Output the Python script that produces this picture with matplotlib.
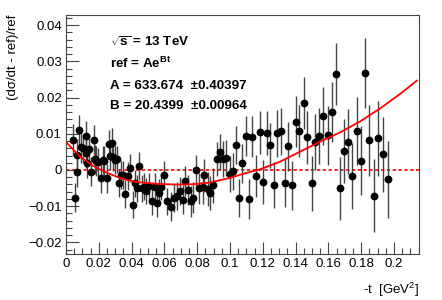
import matplotlib
matplotlib.use('Agg')
import matplotlib.pyplot as plt
from matplotlib.ticker import MultipleLocator

plt.rcParams['font.family'] = ['Liberation Sans', 'DejaVu Sans']
plt.rcParams['mathtext.fontset'] = 'custom'
plt.rcParams['mathtext.rm'] = 'Liberation Sans'
plt.rcParams['mathtext.bf'] = 'Liberation Sans:bold'

# data points: -t, ratio, error
t_pts = [0.00457, 0.00549, 0.00652, 0.00689, 0.00793, 0.00896, 0.01018, 0.01189, 0.01220, 0.01299,
         0.01421, 0.01494, 0.01695, 0.01768, 0.01829, 0.01970, 0.02122, 0.02238, 0.02317, 0.02470,
         0.02591, 0.02683, 0.02805, 0.02884, 0.02988, 0.03128, 0.03207, 0.03335, 0.03494, 0.03573,
         0.03799, 0.03902, 0.04055, 0.04207, 0.04348, 0.04421, 0.04616, 0.04756, 0.04878, 0.05079,
         0.05226, 0.05427, 0.05549, 0.05652, 0.05774, 0.05976, 0.06140, 0.06402, 0.06585, 0.06768,
         0.06921, 0.07104, 0.07256, 0.07439, 0.07604, 0.07762, 0.07909, 0.08128, 0.08372, 0.08433,
         0.08640, 0.08750, 0.08982, 0.09177, 0.09372, 0.09561, 0.09774, 0.09988, 0.10152, 0.10335,
         0.10549, 0.10750, 0.10957, 0.11171, 0.11360, 0.11585, 0.11799, 0.11994, 0.12226, 0.12439,
         0.12665, 0.12884, 0.13110, 0.13335, 0.13555, 0.13780, 0.14012, 0.14226, 0.14482, 0.14713,
         0.14970, 0.15195, 0.15445, 0.15671, 0.15945, 0.16189, 0.16445, 0.16707, 0.16951, 0.17195,
         0.17457, 0.17726, 0.17988, 0.18244, 0.18494, 0.18780, 0.19043, 0.19311, 0.19604]
r_pts = [0.00829, -0.00773, -0.00047, 0.00414, 0.01091, 0.00644, 0.00599, 0.00925, 0.00478, 0.00185,
         0.00572, -0.00055, 0.00829, 0.00296, 0.00249, 0.00229, -0.00235, 0.00276, 0.00257, -0.00235,
         0.00718, 0.00387, 0.00746, 0.00367, 0.00276, 0.00296, -0.00367, -0.00138, -0.00138, -0.00663,
         -0.00166, 0.00047, -0.00956, -0.00367, -0.00506, 0.00110, -0.00506, -0.00461, -0.00580, -0.00442,
         -0.00867, -0.00461, -0.00920, -0.00627, -0.00461, -0.00130, -0.00867, -0.01014, -0.00773, -0.00718,
         -0.00580, -0.00815, -0.00304, -0.00552, -0.00870, -0.00765, -0.00014, -0.00511, -0.00483, -0.00152,
         -0.00525, -0.00635, -0.00428, 0.00304, 0.00497, 0.00304, 0.00331, -0.00110, -0.00041, 0.00691,
         -0.00773, 0.00185, 0.00948, -0.00796, 0.00917, -0.00157, 0.01036, -0.00326, 0.01017, 0.00677,
         -0.00423, 0.01008, 0.01072, -0.00351, 0.00649, -0.00423, 0.01334, 0.01077, 0.01859, 0.00906,
         -0.00373, 0.00773, 0.00939, 0.01492, 0.00961, 0.01608, 0.02652, -0.00511, 0.00517, 0.00782,
         -0.00174, 0.01077, 0.00257, 0.02688, 0.00815, -0.00710, 0.00870, 0.00436, -0.00262]
r_err = [0.0045, 0.0040, 0.0042, 0.0045, 0.0042, 0.0044, 0.0040, 0.0042, 0.0043, 0.0040,
         0.0041, 0.0040, 0.0042, 0.0040, 0.0041, 0.0039, 0.0040, 0.0040, 0.0041, 0.0039,
         0.0040, 0.0039, 0.0040, 0.0039, 0.0039, 0.0038, 0.0039, 0.0038, 0.0039, 0.0038,
         0.0038, 0.0039, 0.0038, 0.0038, 0.0037, 0.0038, 0.0037, 0.0038, 0.0037, 0.0037,
         0.0038, 0.0037, 0.0037, 0.0038, 0.0038, 0.0039, 0.0038, 0.0040, 0.0039, 0.0040,
         0.0040, 0.0041, 0.0041, 0.0042, 0.0042, 0.0043, 0.0043, 0.0044, 0.0045, 0.0045,
         0.0046, 0.0046, 0.0047, 0.0048, 0.0049, 0.0049, 0.0050, 0.0051, 0.0051, 0.0053,
         0.0053, 0.0054, 0.0055, 0.0056, 0.0057, 0.0058, 0.0059, 0.0060, 0.0061, 0.0062,
         0.0063, 0.0064, 0.0065, 0.0066, 0.0067, 0.0068, 0.0070, 0.0071, 0.0072, 0.0073,
         0.0075, 0.0076, 0.0078, 0.0079, 0.0081, 0.0083, 0.0085, 0.0086, 0.0088, 0.0089,
         0.0091, 0.0093, 0.0095, 0.0097, 0.0099, 0.0101, 0.0103, 0.0104, 0.0106]

# fitted curve
t_fit = [0.0003, 0.00854, 0.01665, 0.02482, 0.03293, 0.04104, 0.04921, 0.05732, 0.06750, 0.07762,
         0.08780, 0.09896, 0.10915, 0.11829, 0.13049, 0.14268, 0.15488, 0.16707, 0.17927, 0.19146,
         0.20366, 0.21384]
r_fit = [0.00760, 0.00367, 0.00110, -0.00075, -0.00221, -0.00318, -0.00359, -0.00387, -0.00403, -0.00392,
         -0.00345, -0.00229, -0.00091, 0.00019, 0.00229, 0.00506, 0.00782, 0.01036, 0.01340, 0.01699,
         0.02099, 0.02467]

fig = plt.figure(figsize=(4.42, 3.0), dpi=100)
ax = fig.add_axes([66/442, 1 - 254/300, (419 - 66)/442, (254 - 15)/300])

ax.axhline(0, color='#ff0000', lw=1.2, ls=(0, (2, 1.5)), zorder=1)
ax.errorbar(t_pts, r_pts, yerr=r_err, fmt='o', color='black', ms=4.6,
            ecolor='#444444', elinewidth=1.0, capsize=0, zorder=3)
ax.plot(t_fit, r_fit, color='#ff0000', lw=1.3, zorder=4)

ax.set_xlim(0, 0.2152)
ax.set_ylim(-0.0232, 0.0428)
ax.xaxis.set_major_locator(MultipleLocator(0.02))
ax.xaxis.set_minor_locator(MultipleLocator(0.005))
ax.yaxis.set_major_locator(MultipleLocator(0.01))
ax.yaxis.set_minor_locator(MultipleLocator(0.002))
ax.xaxis.set_major_formatter(plt.FuncFormatter(lambda v, p: '0' if abs(v) < 1e-9 else ('%g' % round(v, 3))))
ax.yaxis.set_major_formatter(plt.FuncFormatter(lambda v, p: '0' if abs(v) < 1e-9 else ('%g' % round(v, 3)).replace('-', '\u2212')))
ax.tick_params(which='both', direction='in', colors='#444444', labelcolor='black',
               labelsize=9.5, top=False, right=False)
ax.tick_params(which='major', length=9, width=0.8, pad=3)
ax.tick_params(which='minor', length=4.5, width=0.8)
for s in ax.spines.values():
    s.set_color('#444444')
    s.set_linewidth(0.8)

fig.text(0.03, 0.95, '(d\u03c3/dt - ref)/ref', rotation=90, ha='center', va='top', fontsize=9.5)
fig.text(419/442, 1 - 290/300, '-t  [GeV$^{2}$]', ha='right', va='center', fontsize=9.5)

fs = 9.6
fig.text(110/442, 1 - 42/300, r'$\mathbf{\sqrt{s}}$ = 13 TeV', ha='left', va='center', fontsize=fs, fontweight='bold')
fig.text(110/442, 1 - 63/300, r'ref = Ae$^{\mathbf{Bt}}$', ha='left', va='center', fontsize=fs, fontweight='bold')
fig.text(110/442, 1 - 86/300, 'A = 633.674  \u00b10.40397', ha='left', va='center', fontsize=fs, fontweight='bold')
fig.text(110/442, 1 - 106/300, 'B = 20.4399  \u00b10.00964', ha='left', va='center', fontsize=fs, fontweight='bold')

fig.savefig('out.png', dpi=100)
